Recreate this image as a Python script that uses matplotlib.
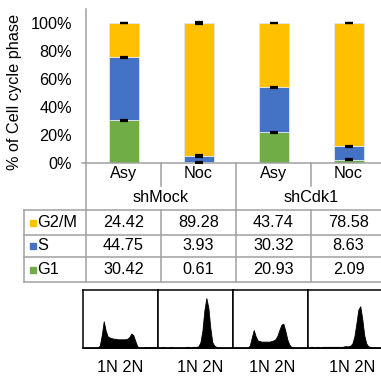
import numpy as np
import matplotlib
matplotlib.use('Agg')
import matplotlib.pyplot as plt
from matplotlib.ticker import FuncFormatter

plt.rcParams['font.family'] = ['Liberation Sans', 'DejaVu Sans']

# --- datos ---
conditions = ['Asy', 'Noc', 'Asy', 'Noc']
groups = ['shMock', 'shCdk1']
phases = ['G2/M', 'S', 'G1']
g1 = [30.42, 0.61, 20.93, 2.09]
s_phase = [44.75, 3.93, 30.32, 8.63]
g2m = [24.42, 89.28, 43.74, 78.58]
err_g1 = [0.5, 0.4, 0.4, 0.4]
err_s = [0.4, 0.6, 0.4, 0.3]
err_g2m = [0.3, 0.6, 0.3, 0.3]
phase_colors = ['#FFC000', '#4472C4', '#70AD47']

# DNA content histograms (relative counts per bin)
hist_bins = list(range(1, 77, 2))
hist_mock_asy = [1, 1, 1, 1, 1, 1, 1, 1, 4, 22, 46, 30, 20, 18, 17, 16, 16, 15, 15,
                 15, 15, 15, 16, 19, 25, 22, 12, 3, 1, 1, 1, 2, 1, 2, 1, 2, 1, 1]
hist_mock_noc = [1, 1, 2, 1, 1, 1, 2, 1, 1, 1, 1, 1, 1, 1, 2, 2, 1, 2, 2,
                 2, 3, 10, 30, 65, 86, 70, 35, 10, 4, 2, 1, 1, 1, 1, 1, 1, 1, 1]
hist_cdk1_asy = [1, 1, 1, 1, 1, 1, 1, 1, 4, 18, 31, 20, 13, 12, 11, 11, 11, 11, 11,
                 12, 13, 15, 21, 31, 40, 42, 30, 15, 6, 2, 1, 1, 1, 1, 1, 1, 1, 1]
hist_cdk1_noc = [1, 2, 2, 1, 2, 2, 1, 2, 2, 2, 2, 2, 2, 2, 2, 2, 2, 2, 3,
                 3, 3, 4, 8, 20, 42, 66, 72, 50, 22, 8, 3, 2, 1, 2, 1, 1, 1, 1]
hists = [hist_mock_asy, hist_mock_noc, hist_cdk1_asy, hist_cdk1_noc]
hist_label = '1N 2N'

W, H = 381, 379
FS = 11.7
GRID = '#a0a0a0'


def box(l, t, r, b):
    return [l / W, 1 - b / H, (r - l) / W, (b - t) / H]


fig = plt.figure(figsize=(W / 100, H / 100), dpi=100)

# --- barras apiladas al 100% ---
ax = fig.add_axes(box(86, 9, 386, 163))
x = np.arange(len(conditions))
totals = np.array(g1) + np.array(s_phase) + np.array(g2m)
bottom = np.zeros(len(conditions))
for vals, errs, col in zip([g1, s_phase, g2m], [err_g1, err_s, err_g2m],
                           phase_colors[::-1]):
    pct = np.array(vals) / totals * 100
    ax.bar(x, pct, bottom=bottom, width=0.4, color=col, linewidth=0.6,
           edgecolor='#dfe6f0', zorder=2)
    bottom = bottom + pct
    ax.errorbar(x, bottom, yerr=errs, fmt='none', ecolor='black',
                elinewidth=1.2, capsize=2.6, capthick=1.6, zorder=3)

ax.set_xlim(-0.5, 3.5)
ax.set_ylim(0, 110)
ax.set_yticks([0, 20, 40, 60, 80, 100])
ax.yaxis.set_major_formatter(FuncFormatter(lambda v, p: f'{v:.0f}%'))
ax.set_xticks(x, conditions)
ax.tick_params(axis='y', length=0, pad=10, labelsize=FS)
ax.tick_params(axis='x', length=0, pad=2, labelsize=FS)
for side in ['top', 'right']:
    ax.spines[side].set_visible(False)
for side in ['left', 'bottom']:
    ax.spines[side].set_color(GRID)
    ax.spines[side].set_linewidth(1.1)

# --- tabla de datos (capa en pixeles) ---
ov = fig.add_axes([0, 0, 1, 1])
ov.set_xlim(0, W)
ov.set_ylim(H, 0)
ov.axis('off')

ov.text(15, 92, '% of Cell cycle phase', rotation=90, ha='center',
        va='center', fontsize=FS)

lw = 1.1
ov.plot([82, 86], [163, 163], color=GRID, lw=lw)
ov.plot([86, 86], [163, 282], color=GRID, lw=lw)
ov.plot([236, 236], [163, 282], color=GRID, lw=lw)
for xs in [161, 311]:
    ov.plot([xs, xs], [163, 186], color=GRID, lw=lw)
    ov.plot([xs, xs], [210, 282], color=GRID, lw=lw)
ov.plot([24, 24], [210, 282], color=GRID, lw=lw)
for ys in [210, 235, 257, 282]:
    ov.plot([24, W], [ys, ys], color=GRID, lw=lw)

for i, g in enumerate(groups):
    ov.text(161 + 150 * i, 198, g, ha='center', va='center', fontsize=FS)

row_y = [222.5, 246, 269.5]
row_vals = [g2m, s_phase, g1]
for ry, name, col, vals in zip(row_y, phases, phase_colors, row_vals):
    ov.plot(32.5, ry, marker='s', markersize=4.6, color=col, lw=0)
    ov.text(37, ry, name, ha='left', va='center', fontsize=FS)
    for i, v in enumerate(vals):
        ov.text(123.5 + 75 * i, ry, f'{v:.2f}', ha='center', va='center',
                fontsize=FS)

# --- histogramas ---
label_x = [120.5, 200.5, 272, 352]
for i, h in enumerate(hists):
    hx = fig.add_axes(box(83 + 75 * i, 290, 83 + 75 * (i + 1), 348))
    hx.fill_between(hist_bins, h, color='black', lw=0.6, edgecolor='black')
    hx.set_xlim(0, 76)
    hx.set_ylim(0, 100)
    hx.set_xticks([])
    hx.set_yticks([])
    for sp in hx.spines.values():
        sp.set_color('black')
        sp.set_linewidth(1.1)
    ov.text(label_x[i], 367, hist_label, ha='center', va='center', fontsize=FS)

plt.savefig('out.png', dpi=100)
